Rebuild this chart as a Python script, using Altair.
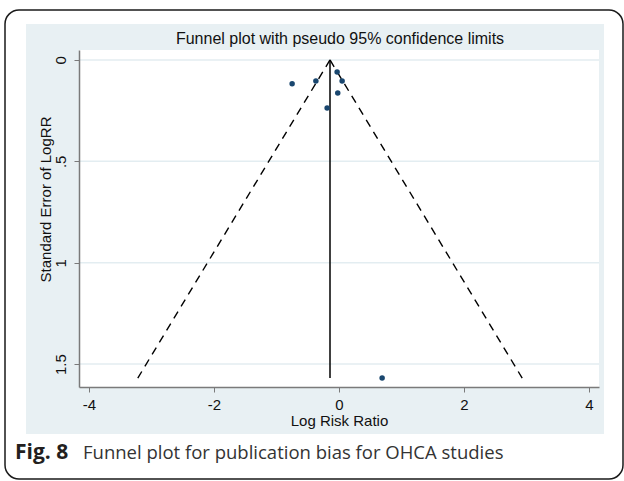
import altair as alt
import pandas as pd

# ---- data ----
log_rr = [-0.75, -0.37, -0.03, 0.05, -0.02, -0.19, 0.69]
se_log_rr = [0.118, 0.104, 0.059, 0.104, 0.163, 0.237, 1.569]
pooled_log_rr = -0.144
z95 = 1.96
x_ticks = [-4, -2, 0, 2, 4]
y_ticks = [0, 0.5, 1, 1.5]

title_text = "Funnel plot with pseudo 95% confidence limits"
x_title = "Log Risk Ratio"
y_title = "Standard Error of LogRR"
caption_bold = "Fig. 8"
caption_rest = "Funnel plot for publication bias for OHCA studies"

# ---- layout (pixels) ----
W, H = 520, 337
PAD_L, PAD_T = 79, 50
PAD_R, PAD_B = 624 - PAD_L - W, 481 - PAD_T - H

points = pd.DataFrame({"logrr": log_rr, "se": se_log_rr})
se_max = max(se_log_rr)
funnel = pd.DataFrame({
    "logrr": [pooled_log_rr, pooled_log_rr - z95 * se_max,
              pooled_log_rr, pooled_log_rr + z95 * se_max],
    "se": [0, se_max, 0, se_max],
    "side": ["lower", "lower", "upper", "upper"],
    "ord": [0, 1, 0, 1],
})
pooled_df = pd.DataFrame({"logrr": [pooled_log_rr], "se0": [0.0], "se1": [se_max]})
grid_df = pd.DataFrame({"se": y_ticks})
one = alt.Data(values=[{}])

xscale = alt.Scale(domain=[-4.16, 4.16], nice=False, zero=False)
yscale = alt.Scale(domain=[-0.049, 1.613], nice=False, zero=False, reverse=True)

AXCOL = "#7a7a7a"
FONT = "Liberation Sans"

x_axis = alt.Axis(values=x_ticks, title=x_title, grid=False, domainColor=AXCOL,
                  domainWidth=1.5, tickColor=AXCOL, tickSize=5, labelFont=FONT,
                  labelFontSize=15, labelColor="#111", labelPadding=5,
                  labelExpr="'' + datum.value",
                  titleFont=FONT, titleFontSize=15, titleFontWeight="normal",
                  titleColor="#111", titleBaseline="alphabetic", titleY=38,
                  titleX=W / 2, zindex=1)
y_axis = alt.Axis(values=y_ticks, title=y_title, grid=False, domainColor=AXCOL,
                  domainWidth=1.5, tickColor=AXCOL, tickSize=5, labelFont=FONT,
                  labelFontSize=15, labelColor="#111", labelAngle=270,
                  labelAlign="center", labelBaseline="middle", labelPadding=14,
                  labelExpr="datum.value == 0.5 ? '.5' : '' + datum.value",
                  titleFont=FONT, titleFontSize=15, titleFontWeight="normal",
                  titleColor="#111", titleAngle=270, titleAlign="center",
                  titleBaseline="middle", titleX=-34, titleY=149, zindex=1)

panel = alt.Chart(one).mark_rect(fill="#e8f0f3").encode(
    x=alt.value(26 - PAD_L), x2=alt.value(604 - PAD_L),
    y=alt.value(24 - PAD_T), y2=alt.value(434 - PAD_T))
plotbg = alt.Chart(one).mark_rect(fill="white").encode(
    x=alt.value(0), x2=alt.value(W), y=alt.value(0), y2=alt.value(H))
frame = alt.Chart(one).mark_rect(fill=None, stroke="#1a1a1a", strokeWidth=1.5,
                                 cornerRadius=14).encode(
    x=alt.value(5 - PAD_L), x2=alt.value(623 - PAD_L),
    y=alt.value(10 - PAD_T), y2=alt.value(479 - PAD_T))

title = alt.Chart(one).mark_text(text=title_text, font=FONT, fontSize=16,
                                 color="#111", align="center",
                                 baseline="alphabetic").encode(
    x=alt.value(W / 2 + 1), y=alt.value(44 - PAD_T))

grid = alt.Chart(grid_df).mark_rule(color="#e3edf1", strokeWidth=1.5).encode(
    y=alt.Y("se:Q", scale=yscale, axis=y_axis),
    x=alt.value(0), x2=alt.value(W))

lines = alt.Chart(funnel).mark_line(color="black", strokeWidth=1.4,
                                    strokeDash=[8, 6]).encode(
    x=alt.X("logrr:Q", scale=xscale, axis=x_axis),
    y=alt.Y("se:Q", scale=yscale),
    detail="side:N", order="ord:Q")

vline = alt.Chart(pooled_df).mark_rule(color="black", strokeWidth=1.5).encode(
    x=alt.X("logrr:Q", scale=xscale),
    y=alt.Y("se0:Q", scale=yscale), y2="se1:Q")

dots = alt.Chart(points).mark_circle(size=30, color="#1a476f", opacity=1).encode(
    x=alt.X("logrr:Q", scale=xscale),
    y=alt.Y("se:Q", scale=yscale))

cap1 = alt.Chart(one).mark_text(text=caption_bold, font="Open Sans", fontSize=21,
                                fontWeight="bold", color="#231f20", align="left",
                                baseline="alphabetic").encode(
    x=alt.value(15 - PAD_L), y=alt.value(459 - PAD_T))
cap2 = alt.Chart(one).mark_text(text=caption_rest, font="Open Sans", fontSize=18.5,
                                color="#333333", align="left",
                                baseline="alphabetic").encode(
    x=alt.value(83 - PAD_L), y=alt.value(459 - PAD_T))

chart = alt.layer(panel, plotbg, grid, lines, vline, dots, frame, title, cap1, cap2).properties(
    width=W, height=H,
    autosize=alt.AutoSizeParams(type="none"),
    padding={"left": PAD_L, "top": PAD_T, "right": PAD_R, "bottom": PAD_B},
    background="white",
).configure_view(stroke=None, fill=None)

chart.save("out.html", embed_options={"renderer": "svg", "actions": False})
